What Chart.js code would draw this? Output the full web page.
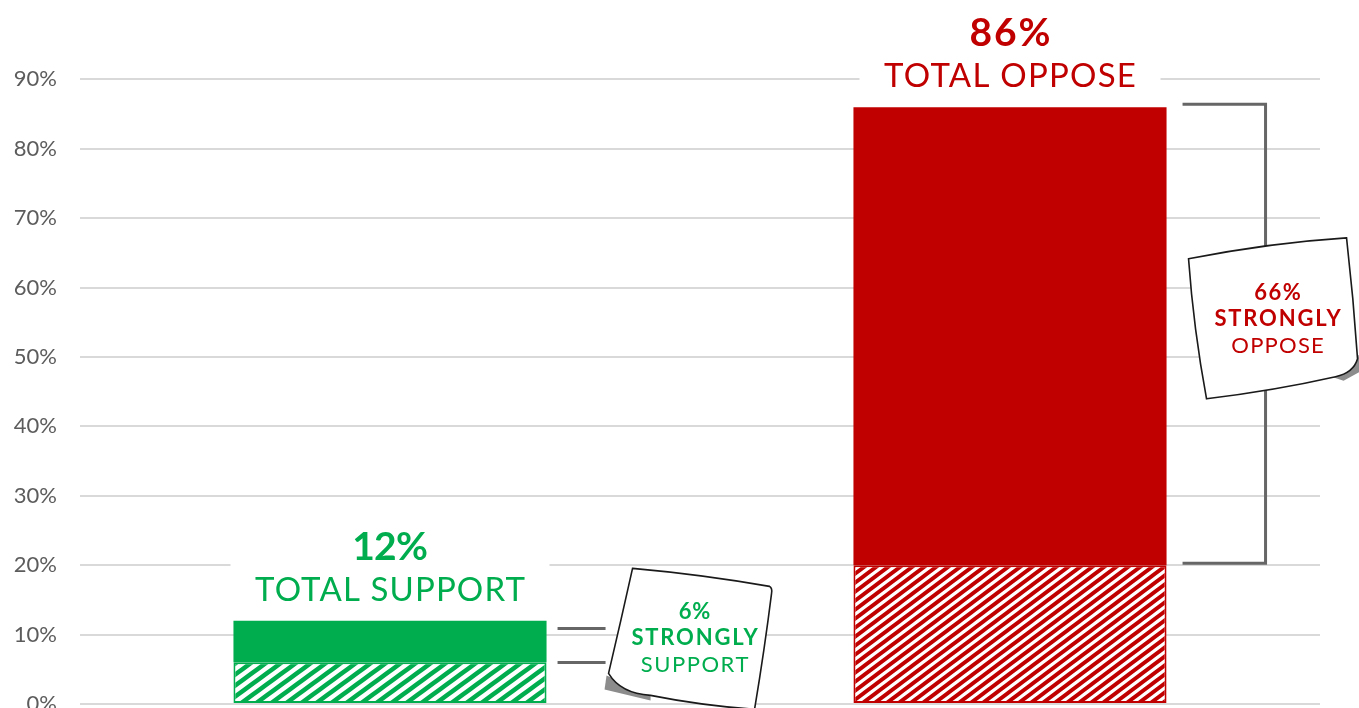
<!DOCTYPE html>
<html><head><meta charset="utf-8">
<script src="https://cdn.jsdelivr.net/npm/chart.js@4/dist/chart.umd.min.js"></script>
<style>
html,body{margin:0;padding:0;background:#fff;overflow:hidden}
#wrap{width:1359px;height:708px;overflow:hidden;position:relative;background:#fff}
canvas{display:block}
</style></head>
<body><div id="wrap"><canvas id="c" width="1359" height="730" style="width:1359px;height:730px"></canvas></div>
<script>
// ---- data ----
const categories = ['Support', 'Oppose'];
const somewhatValues = [6, 20];      // hatched lower segment
const stronglyValues = [6, 66];      // solid upper segment
const totalValues = [12, 86];
const totalLabels = ['TOTAL SUPPORT', 'TOTAL OPPOSE'];
const noteLabels = [['6%', 'STRONGLY', 'SUPPORT'], ['66%', 'STRONGLY', 'OPPOSE']];
const yTickValues = [0, 10, 20, 30, 40, 50, 60, 70, 80, 90];

// ---- style ----
const colors = ['#00AD4E', '#C00000'];
const FONT = 'Lato, "Open Sans", sans-serif';

function hatch(color, px, py, lw) {
  const c = document.createElement('canvas');
  c.width = px; c.height = py;
  const x = c.getContext('2d');
  x.fillStyle = '#fff'; x.fillRect(0, 0, px, py);
  x.strokeStyle = color; x.lineWidth = lw; x.lineCap = 'butt';
  x.beginPath();
  for (let k = -1; k <= 3; k++) {
    x.moveTo(k * px - 2 * px, 2 * py); x.lineTo(k * px + px, -py);
  }
  x.stroke();
  return x.createPattern(c, 'repeat');
}
const hatches = [hatch(colors[0], 15, 11, 4.6), hatch(colors[1], 12, 9, 3.9)];

function fitText(ctx, text, x, y, font, width) {
  ctx.font = font; ctx.letterSpacing = '0px';
  const w = ctx.measureText(text).width;
  const ls = (width - w) / text.length;
  ctx.letterSpacing = ls + 'px';
  ctx.fillText(text, x + ls / 2, y);
  ctx.letterSpacing = '0px';
}

function notePath(ctx, cx, cy, segs) {
  ctx.beginPath();
  ctx.moveTo(cx + segs[0][0], cy + segs[0][1]);
  for (let i = 1; i < segs.length; i++) {
    const s = segs[i];
    ctx.quadraticCurveTo(cx + s[2], cy + s[3], cx + s[0], cy + s[1]);
  }
  ctx.closePath();
}
function drawNote(ctx, cx, cy, segs, shadow, lines, color, textOff) {
  ctx.save();
  ctx.fillStyle = '#8c8c8c';
  ctx.beginPath();
  shadow.forEach((p, i) => i ? ctx.lineTo(cx + p[0], cy + p[1]) : ctx.moveTo(cx + p[0], cy + p[1]));
  ctx.closePath(); ctx.fill();
  notePath(ctx, cx, cy, segs);
  ctx.fillStyle = '#fff'; ctx.fill();
  ctx.lineWidth = 1.6; ctx.strokeStyle = '#1a1a1a'; ctx.stroke();
  ctx.fillStyle = color; ctx.textAlign = 'center'; ctx.textBaseline = 'middle';
  const tx = cx + textOff[0], ty = cy + textOff[1];
  fitText(ctx, lines[0], tx, ty - 26, 'bold 22px ' + FONT, lines[0].length * 16);
  fitText(ctx, lines[1], tx, ty, 'bold 22px ' + FONT, 128);
  fitText(ctx, lines[2], tx, ty + 27, '22px ' + FONT, lines[2].length * 15.6);
  ctx.restore();
}

const overlay = {
  id: 'overlay',
  afterDatasetsDraw(chart) {
    const ctx = chart.ctx, ys = chart.scales.y;
    const meta = chart.getDatasetMeta(1);
    ctx.save();
    // total labels with white knock-out boxes
    totalValues.forEach((v, i) => {
      const bar = meta.data[i];
      const cx = bar.x, top = ys.getPixelForValue(v);
      const w = i === 0 ? 271 : 253;
      ctx.fillStyle = '#fff';
      ctx.fillRect(cx - w / 2 - 24, top - 100, w + 48, 92);
      ctx.fillStyle = colors[i]; ctx.textAlign = 'center'; ctx.textBaseline = 'alphabetic';
      fitText(ctx, v + '%', cx, top - 61, 'bold 39px ' + FONT, i === 0 ? 75 : 83);
      fitText(ctx, totalLabels[i], cx, top - 20, '33px ' + FONT, w);
    });
    // connectors
    ctx.strokeStyle = '#666'; ctx.lineWidth = 3; ctx.lineCap = 'butt';
    const b0 = meta.data[0], r0 = b0.x + b0.width / 2;
    [11, 6].forEach(v => {
      const y = Math.round(ys.getPixelForValue(v)) + 0.5;
      ctx.beginPath(); ctx.moveTo(r0 + 11, y); ctx.lineTo(r0 + 59, y); ctx.stroke();
    });
    const b1 = meta.data[1], r1 = b1.x + b1.width / 2;
    const yTop = ys.getPixelForValue(totalValues[1]) - 3, yBot = ys.getPixelForValue(somewhatValues[1]) - 2;
    const bx = r1 + 99;
    ctx.beginPath();
    ctx.moveTo(r1 + 16, yTop); ctx.lineTo(bx, yTop); ctx.lineTo(bx, yBot); ctx.lineTo(r1 + 16, yBot);
    ctx.stroke();
    // sticky notes
    const c0x = r0 + 144, c0y = ys.getPixelForValue(9.6);
    drawNote(ctx, c0x, c0y,
      [[-58, -69], [79, -51, 10, -63], [81, -44, 82, -49], [64, 72, 74, 12], [-40, 58, 10, 68], [-82, 36, -70, 56], [-58, -69, -70, -15]],
      [[-84, 38], [-86, 52], [-40, 63], [-40, 57]],
      noteLabels[0], colors[0], [4, 1]);
    const c1x = r1 + 107, c1y = ys.getPixelForValue(55.5);
    drawNote(ctx, c1x, c1y,
      [[-85, -60], [73, -81, -5, -76], [84, 40, 80, -20], [62, 58, 80, 54], [-67, 80, 0, 72], [-85, -60, -80, 10]],
      [[85, 36], [88, 52], [70, 62], [58, 58]],
      noteLabels[1], colors[1], [4, 0]);
    ctx.restore();
  }
};

new Chart(document.getElementById('c'), {
  type: 'bar',
  data: {
    labels: categories,
    datasets: [
      { label: 'Somewhat', data: somewhatValues, backgroundColor: hatches, borderColor: colors, borderWidth: 2, borderSkipped: false },
      { label: 'Strongly', data: stronglyValues, backgroundColor: colors, borderColor: colors, borderWidth: 0 }
    ]
  },
  options: {
    responsive: false,
    animation: false,
    layout: { padding: { top: 10, bottom: 26, left: 0, right: 39 } },
    datasets: { bar: { categoryPercentage: 1, barPercentage: 0.505 } },
    plugins: { legend: { display: false }, tooltip: { enabled: false } },
    scales: {
      x: { stacked: true, display: false },
      y: {
        stacked: true, min: 0, max: 100,
        border: { display: false },
        grid: { color: '#d9d9d9', lineWidth: 2, drawTicks: false },
        afterBuildTicks(s) { s.ticks = yTickValues.map(v => ({ value: v })); },
        afterFit(s) { s.width = 80; s.paddingTop = 0; s.paddingBottom = 0; },
        ticks: {
          padding: 23, color: '#5c5c5c',
          font: { family: FONT, size: 22, weight: 400 },
          callback: v => v + '%'
        }
      }
    }
  },
  plugins: [overlay]
});
</script></body></html>
